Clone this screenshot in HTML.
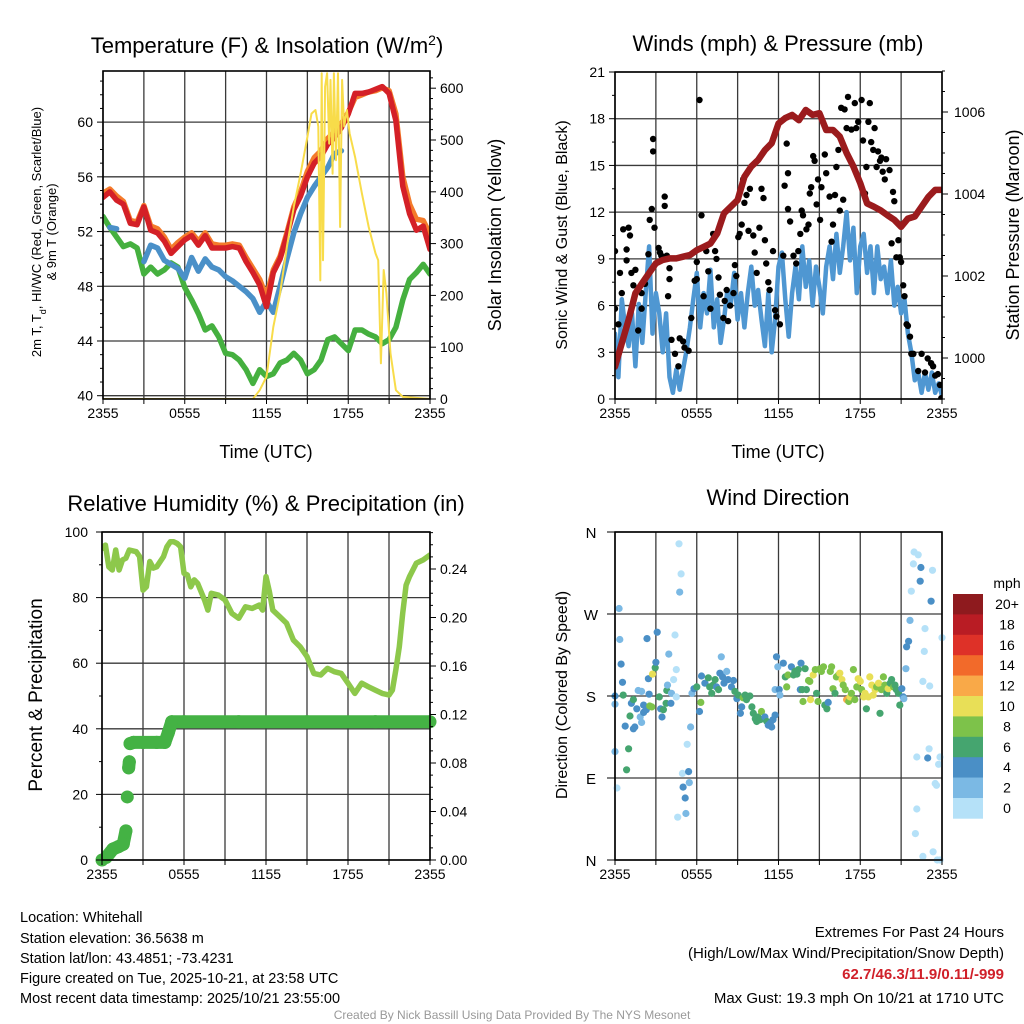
<!DOCTYPE html>
<html><head><meta charset="utf-8"><style>
html,body{margin:0;padding:0;background:#fff;}
svg{display:block;font-family:"Liberation Sans",Arial,sans-serif;}
</style></head><body>
<svg id="chart" width="1024" height="1024" viewBox="0 0 1024 1024" xmlns="http://www.w3.org/2000/svg">
<rect x="0" y="0" width="1024" height="1024" fill="#fff"/>
<text x="267" y="53" font-size="22" text-anchor="middle">Temperature (F) &amp; Insolation (W/m<tspan baseline-shift="super" font-size="14">2</tspan>)</text>
<text x="778" y="51" font-size="22" text-anchor="middle">Winds (mph) &amp; Pressure (mb)</text>
<text x="266" y="511" font-size="22" text-anchor="middle">Relative Humidity (%) &amp; Precipitation (in)</text>
<text x="778" y="505" font-size="22" text-anchor="middle">Wind Direction</text>
<text x="266" y="458" font-size="18" text-anchor="middle">Time (UTC)</text>
<text x="778" y="458" font-size="18" text-anchor="middle">Time (UTC)</text>
<g font-size="13" text-anchor="middle">
<text transform="translate(41,232) rotate(-90)">2m T, T<tspan baseline-shift="sub" font-size="9">d</tspan>, HI/WC (Red, Green, Scarlet/Blue)</text>
<text transform="translate(56,232) rotate(-90)">&amp; 9m T (Orange)</text>
</g>
<text transform="translate(501,235) rotate(-90)" font-size="18" text-anchor="middle">Solar Insolation (Yellow)</text>
<text transform="translate(567,235) rotate(-90)" font-size="16" text-anchor="middle">Sonic Wind &amp; Gust (Blue, Black)</text>
<text transform="translate(1019,235) rotate(-90)" font-size="18" text-anchor="middle">Station Pressure (Maroon)</text>
<text transform="translate(42,695) rotate(-90)" font-size="19" text-anchor="middle">Percent &amp; Precipitation</text>
<text transform="translate(567,695) rotate(-90)" font-size="16" text-anchor="middle">Direction (Colored By Speed)</text>
<g font-size="14.5">
<text x="20" y="922">Location: Whitehall</text>
<text x="20" y="943">Station elevation: 36.5638 m</text>
<text x="20" y="963">Station lat/lon: 43.4851; -73.4231</text>
<text x="20" y="983">Figure created on Tue, 2025-10-21, at 23:58 UTC</text>
<text x="20" y="1003">Most recent data timestamp: 2025/10/21 23:55:00</text>
</g>
<g font-size="15" text-anchor="end">
<text x="1004" y="937">Extremes For Past 24 Hours</text>
<text x="1004" y="958">(High/Low/Max Wind/Precipitation/Snow Depth)</text>
<text x="1004" y="979" fill="#d0202a" font-weight="bold">62.7/46.3/11.9/0.11/-999</text>
<text x="1004" y="1003">Max Gust: 19.3 mph On 10/21 at 1710 UTC</text>
</g>
<text x="512" y="1019" font-size="12" fill="#999" text-anchor="middle">Created By Nick Bassill Using Data Provided By The NYS Mesonet</text>
</svg>
<script>
// ---------- DATA ----------
const xTickLabels = ["2355","0555","1155","1755","2355"];
const tempStep = 0.5;
const tempRed = [54.5,54.9,54.3,54.0,52.6,52.5,53.8,52.1,51.9,51.3,50.4,50.9,51.4,51.7,51.0,51.7,50.8,50.8,50.8,50.9,50.8,49.8,49.0,48.1,46.5,49.0,50.0,51.7,53.6,54.6,56.0,57.0,57.5,58.4,58.9,59.6,60.6,62.1,62.1,62.2,62.4,62.6,62.1,60.1,55.3,53.3,52.1,52.4,50.7];
const temp9m = [54.8,55.1,54.6,54.2,52.8,52.7,53.9,52.4,52.2,51.6,50.7,51.2,51.6,51.9,51.3,51.9,51.1,51.0,51.0,51.1,51.0,50.1,49.3,48.5,47.2,49.2,50.2,51.9,53.8,54.9,56.4,57.4,57.9,58.8,59.3,59.9,60.7,61.8,62.0,62.2,62.3,62.5,62.3,60.6,56.0,54.0,52.9,52.8,51.8];
const heatWc = [null,52.3,52.2,null,null,null,49.8,51.0,50.8,49.9,49.6,49.3,48.6,50.1,49.1,50.0,49.4,49.2,48.7,48.4,48.0,47.6,47.1,46.1,46.9,46.1,48.0,50.0,51.9,53.3,54.5,55.3,56.0,56.7,57.7,57.9,null,null,null,null,null,null,null,null,null,null,null,null,null];
const dewPoint = [53.1,52.3,51.6,50.9,51.1,50.8,48.9,49.4,48.9,49.2,49.7,49.4,47.9,47.0,46.0,44.8,45.1,44.3,43.1,43.0,42.6,41.9,40.9,41.9,41.4,41.6,42.4,42.6,43.1,42.6,41.6,41.9,42.6,44.1,44.3,43.8,43.3,44.8,44.8,44.5,44.3,43.8,44.1,45.0,47.0,48.5,49.0,49.6,48.9];
const solarT = [0,11,11.5,12,12.5,13,13.5,14,14.5,15,15.3,15.6,15.8,15.95,16.05,16.15,16.3,16.45,16.6,16.7,16.85,16.95,17.1,17.25,17.4,17.55,17.7,17.9,18.1,18.5,19,19.5,20,20.2,20.4,20.6,20.8,21.1,21.5,22,24];
const solarV = [0,0,17,43,139,204,294,371,435,506,551,558,526,229,629,268,603,629,493,616,435,629,461,629,332,616,526,558,513,467,397,332,281,268,69,249,204,88,17,4,0];
const tempTicks = [40,44,48,52,56,60];
const solarTicks = [0,100,200,300,400,500,600];

const windStep = 0.25;
const sonicWind = [4.2,1.4,6.4,4.6,3.4,5.5,2.1,6.1,3.6,6.8,9.8,4.2,6.8,5.5,3.0,5.5,1.4,0.4,1.9,0.6,1.9,3.1,4.6,6.4,8.1,4.6,6.8,5.5,8.3,4.6,6.4,3.6,5.1,7.0,6.1,8.1,5.1,6.8,4.6,6.8,8.5,6.0,7.0,5.1,3.4,6.8,3.0,5.1,8.5,9.4,6.4,4.0,6.8,8.5,6.4,9.8,7.2,8.9,6.0,8.5,7.2,5.5,8.5,9.8,7.7,10.6,8.1,9.8,12.0,8.9,11.0,6.8,9.8,10.6,8.1,9.8,6.8,9.8,7.7,8.5,6.8,8.9,6.0,7.2,5.5,6.4,4.2,3.0,1.2,1.7,0.4,1.7,0.6,1.7,0.4,1.0,0.2];
const gustT = [0,0,0.25,0.37,0.5,0.6,0.85,1,1.1,0.85,1.2,1.35,1.5,1.7,1.95,1.95,2.2,2.45,2.55,2.7,2.8,2.8,2.9,3.2,3.3,3.4,3.65,3.65,3.8,4.0,4.0,3.9,4.15,4.4,4.65,4.75,5.0,5.1,5.4,5.6,5.85,6.0,6.0,6.2,6.35,6.5,6.7,6.85,7.0,7.2,7.35,7.45,7.6,7.7,7.95,8.05,8.2,8.3,8.45,8.7,8.8,8.9,9.05,9.15,9.3,9.4,9.5,9.65,9.8,9.9,10.15,10.25,10.4,10.6,10.75,10.9,11.0,11.1,11.25,11.35,11.6,11.75,11.85,12.1,12.35,12.45,12.6,12.7,12.7,12.85,13.1,13.3,13.45,13.6,13.7,13.8,14.05,14.2,14.3,14.4,14.55,14.65,14.8,14.9,15.05,15.15,15.4,15.5,15.75,15.9,16.0,16.15,16.25,16.4,16.5,16.6,16.75,16.85,17.0,17.1,17.35,17.6,17.7,17.85,18.1,18.2,18.35,18.45,18.6,18.7,18.8,18.95,19.05,19.2,19.3,19.45,19.55,19.65,19.8,19.9,20.15,20.3,20.4,20.5,20.65,20.8,20.9,21.0,21.15,21.25,21.4,21.5,21.65,21.75,21.9,22.25,22.5,22.75,22.95,23.2,23.35,23.5,23.7,23.85,23.95];
const gustV = [9.5,5.8,4.8,8.1,6.8,10.9,9.6,11,10.5,8.9,8.1,7.3,8.3,4.4,5.8,6.8,7.4,9.3,11.5,12.2,15.9,16.7,11,9.7,9.4,9.2,13,12.4,9.2,7.7,8.4,6.6,3.8,2.9,2.1,3.9,3.7,3.3,3.1,5.2,7.6,7.7,8.8,19.2,11.8,6.6,9.5,8.2,5.8,10.6,9.5,9.0,7.8,6.7,5.2,6.3,7.0,5.0,6.0,6.8,8.6,7.9,10.4,10.6,11.2,14.1,12.6,13.1,10.8,13.5,10.5,9.4,8.1,11.0,13.5,12.9,10.2,8.7,7.5,7.0,9.5,5.7,5.3,4.8,9.2,13.7,16.4,14.5,12.2,11.4,9.2,8.7,9.5,10.6,12.1,11.8,10.9,11.2,13.2,13.6,15.6,15.3,12.5,14.1,11.5,13.6,15.7,14.5,13.0,10.1,11.2,13.1,14.9,16.0,12.1,18.7,12.8,18.6,17.4,19.4,17.3,19.0,17.4,17.8,19.2,16.6,13.2,14.9,17.8,19.0,16.5,16.0,17.4,14.9,15.9,15.3,15.5,14.6,14.1,15.4,14.7,10.0,13.3,12.7,9.1,10.2,9.1,8.8,7.3,6.6,4.8,4.7,4.0,2.9,2.9,1.8,2.9,1.7,2.6,2.3,2.1,1.5,1.6,0.9,0.05];
const pressStep = 0.5;
const pressure = [999.79,1000.36,1000.93,1001.58,1001.83,1002.07,1002.31,1002.39,1002.43,1002.43,1002.47,1002.51,1002.63,1002.71,1002.79,1003.04,1003.53,1003.69,1003.85,1004.42,1004.67,1004.83,1005.07,1005.24,1005.72,1005.85,1005.93,1005.80,1006.05,1005.93,1005.97,1005.56,1005.56,1005.40,1005.00,1004.67,1004.26,1003.77,1003.69,1003.60,1003.48,1003.37,1003.20,1003.40,1003.45,1003.69,1003.93,1004.10,1004.10];
const windTicks = [0,3,6,9,12,15,18,21];
const pressTicks = [1000,1002,1004,1006];

const rhT = [0,0.25,0.5,0.75,1,1.25,1.5,1.75,2,2.5,2.75,3,3.25,3.5,3.75,4,4.5,4.75,5,5.25,5.5,5.75,6,6.25,6.5,6.75,7,7.5,7.75,8,8.5,9,9.5,10,10.5,11,11.5,11.75,12,12.25,12.5,13,13.5,14,14.5,15,15.5,16,16.5,17,17.5,18,18.5,19,19.5,20,20.5,21,21.25,21.5,21.75,22,22.25,22.5,23,23.5,24];
const rhV = [95,96,89.4,88.4,94.5,88.4,91.5,92,94.5,94,92.5,82.3,83.3,91,89,89.4,92.5,95.5,97,97,96.5,95.5,87.4,86.9,83.3,85.4,84.3,79.3,76.2,81.3,80.8,79.3,75.2,73.7,77.2,76.7,77.7,76.2,86.4,81.8,76.2,74.2,72.2,67.1,65.0,62,56.9,56.4,58.4,57.4,56.9,53.9,50.8,53.9,52.8,51.8,50.8,50.3,51.8,57.9,65,75.2,83.8,86.4,90.5,91.5,93];
const precipT = [0,0.3,0.8,1.2,1.55,1.75,1.85,1.95,2.0,2.05,2.3,3,4,4.6,4.85,5.1,6,10,15,20,24];
const precipV = [0,0.002,0.009,0.011,0.013,0.024,0.052,0.076,0.081,0.096,0.097,0.097,0.097,0.097,0.105,0.114,0.114,0.114,0.114,0.114,0.114];
const rhTicks = [0,20,40,60,80,100];
const precipTicks = [0,0.04,0.08,0.12,0.16,0.20,0.24];

const dirT = [0,0,0.3,0.35,0.45,0.55,0.6,0,0.15,0.75,0.85,1.0,1.1,1.2,1.35,1.45,1.35,1.6,1.7,1.85,1.95,1.95,2.1,2.1,2.3,2.35,2.45,2.5,2.55,2.7,2.75,2.95,3.0,3.1,3.25,3.35,3.45,3.55,3.75,3.8,3.85,3.95,4.1,4.15,4.3,4.4,4.5,4.5,4.7,4.85,4.75,4.95,5.0,5.15,5.2,5.3,5.4,5.45,5.55,4.6,5.65,5.8,6.0,6.2,6.3,6.35,6.6,6.85,6.95,7.1,7.2,7.35,7.45,7.6,7.7,7.8,7.9,8.0,8.2,8.3,8.55,8.7,8.8,8.95,9.05,9.2,9.3,9.4,9.55,9.65,9.9,10.05,10.15,10.3,10.4,10.5,10.65,10.75,10.9,11.0,11.15,11.25,11.4,11.5,11.6,11.75,11.75,11.85,11.95,12.05,12.1,12.35,12.5,12.6,12.7,12.95,13.1,13.2,13.35,13.45,13.6,13.65,13.75,13.8,13.95,14.05,14.2,14.3,14.35,14.55,14.7,14.8,14.9,15.05,15.15,15.3,15.4,15.55,15.65,15.8,15.9,16.0,16.15,16.25,16.4,16.5,16.65,16.75,16.9,17.0,17.15,17.25,17.35,17.5,17.6,17.75,17.85,18.0,18.1,18.25,18.35,18.45,18.6,18.7,18.85,18.95,19.1,19.2,19.35,19.45,19.55,19.7,19.8,19.95,20.05,20.2,20.3,20.45,20.55,20.65,20.8,20.9,21.05,21.15,21.2,21.35,21.4,21.55,21.65,21.75,21.9,21.95,22.25,22.45,22.4,22.6,22.7,22.75,23.1,23.2,23.3,22.15,22.95,23.05,22.15,22.05,22.6,23.35,23.5,23.6,23.65,23.85,23.75,24.0,23.85];
const dirV = [180,171,276,242,215,195,181,119,79,147,99,122,158,172,144,146,176,166,186,157,185,151,170,162,165,243,199,182,169,168,204,211,217,250,179,166,157,165,172,186,192,226,172,183,198,247,209,179,347,314,294,95,80,68,51,127,97,85,146,47,183,188,190,163,173,202,194,200,190,183,192,198,190,187,205,223,201,194,207,198,190,197,185,177,181,161,168,178,181,176,180,168,161,155,152,157,154,163,155,157,152,148,150,146,154,159,187,223,212,187,181,216,201,190,203,212,203,207,204,209,187,216,187,174,210,187,197,196,176,203,209,183,174,210,207,212,170,166,173,207,212,188,183,201,203,205,198,192,187,176,174,179,183,209,176,190,199,196,187,179,183,166,179,201,192,181,187,190,194,161,187,201,192,183,188,194,198,190,192,187,183,170,188,179,177,210,234,240,263,295,325,338,335,321,306,196,229,254,191,284,318,113,112,122,56,29,4,9,84,82,0,113,105,244,0];
const dirS = [5,3,3,3,5,5,7,3,1,5,7,7,7,5,5,5,7,5,3,3,3,3,5,5,5,5,5,5,9,9,11,7,5,5,7,5,5,7,7,7,3,3,5,3,1,1,1,1,1,1,3,1,5,5,3,1,5,3,3,1,3,5,7,5,9,5,5,7,7,7,7,7,5,7,5,3,5,5,3,5,5,5,7,5,7,5,5,9,7,7,7,7,7,7,7,7,7,9,7,5,7,5,5,5,5,5,3,5,3,5,3,5,7,9,9,5,7,7,7,7,5,5,7,9,7,7,9,9,11,11,9,7,9,9,9,9,7,7,5,9,9,9,7,9,9,11,11,9,9,13,9,11,9,9,9,9,11,11,9,11,11,7,11,11,11,11,11,9,11,7,9,9,9,7,11,7,7,9,7,7,7,7,5,5,3,3,5,5,3,1,1,1,1,5,5,1,1,1,1,5,1,1,5,1,1,1,1,1,1,1,1,1,1,1,1,1];
const dirLabels = ["N","E","S","W","N"];
const dirTicks = [0,90,180,270,360];
const speedLabels = ["0","2","4","6","8","10","12","14","16","18","20+"];
const speedColors = ["#b5e1f8","#7bb9e4","#4a8fc6","#45a56f","#7dc24a","#e8df57","#f9a948","#f26a2a","#de3128","#b91c24","#8e1a1e"];

// ---------- HELPERS ----------
const NS = 'http://www.w3.org/2000/svg';
const svg = document.getElementById('chart');
function mk(tag, parent){ const e = document.createElementNS(NS, tag); parent.appendChild(e); return e; }
function attrs(e, a){ for (const k in a) e.setAttribute(k, a[k]); return e; }
function linear(d0, d1, r0, r1){ return v => r0 + (v - d0) * (r1 - r0) / (d1 - d0); }
function pathFrom(xs, ys, xf, yf){
  let d = '', pen = false;
  for (let i = 0; i < xs.length; i++){
    if (ys[i] === null || ys[i] === undefined){ pen = false; continue; }
    d += (pen ? 'L' : 'M') + xf(xs[i]).toFixed(1) + ',' + yf(ys[i]).toFixed(1);
    pen = true;
  }
  return d;
}
function stepTimes(n, step){ const t = []; for (let i = 0; i < n; i++) t.push(i * step); return t; }
function speedColor(s){ let k = Math.floor(s / 2); if (k > 10) k = 10; if (k < 0) k = 0; return speedColors[k]; }

function panel(name, L, R, T, B){
  const g = mk('g', svg);
  
  
  const cp = mk('clipPath', g);
  attrs(cp, {id: name + '-clip'});
  const cr = mk('rect', cp);
  attrs(cr, {x: L, y: T, width: R - L, height: B - T});
  return g;
}
function grid(g, name, L, R, T, B, xs, ys){
  const gg = mk('g', g);
  
  
  xs.forEach(x => {
    const l = mk('line', gg);
    
    
    attrs(l, {x1: x, x2: x, y1: T, y2: B, stroke: '#3a3a3a', 'stroke-width': 1.3});
  });
  ys.forEach(y => {
    const l = mk('line', gg);
    
    
    attrs(l, {x1: L, x2: R, y1: y, y2: y, stroke: '#3a3a3a', 'stroke-width': 1.3});
  });
}
function frame(g, L, R, T, B){
  const r = mk('rect', g);
  
  
  attrs(r, {x: L, y: T, width: R - L, height: B - T, fill: 'none', stroke: '#000', 'stroke-width': 1.6});
}
function tick(g, x1, y1, x2, y2){
  const l = mk('line', g);
  
  
  attrs(l, {x1: x1, y1: y1, x2: x2, y2: y2, stroke: '#000', 'stroke-width': 1});
}
function label(g, name, x, y, txt, anchor, size){
  const t = mk('text', g);
  
  
  attrs(t, {x: x, y: y, 'text-anchor': anchor, 'font-size': size || 14});
  t.textContent = txt;
  return t;
}
function xAxis(g, L, R, B, xf){
  for (let i = 0; i <= 8; i++) tick(g, xf(i * 3), B, xf(i * 3), B + 5);
  xTickLabels.forEach((s, i) => label(g, 'x-tick-label', xf(i * 6), B + 19, s, 'middle', 14));
}
function seriesPath(g, name, d, color, width, clip){
  const p = mk('path', g);
  
  
  attrs(p, {d: d, fill: 'none', stroke: color, 'stroke-width': width, 'stroke-linejoin': 'round', 'stroke-linecap': 'round', 'clip-path': 'url(#' + clip + ')'});
  return p;
}

// ---------- PANEL 1: Temperature ----------
(function(){
  const L = 103, R = 430, T = 71, B = 399;
  const g = panel('temperature-panel', L, R, T, B);
  const x = linear(0, 24, L, R);
  const y = linear(40, 64, 395.7, 67.4);
  const ys = linear(0, 600, 399, 88.2);
  const xg = []; for (let i = 0; i <= 8; i++) xg.push(x(i * 3));
  grid(g, 'temperature-grid', L, R, T, B, xg, tempTicks.map(y));
  const t = stepTimes(tempRed.length, tempStep);
  seriesPath(g, 'dewpoint-line', pathFrom(t, dewPoint, x, y), '#45b03f', 5.5, 'temperature-panel-clip');
  seriesPath(g, 'temp-9m-line', pathFrom(t, temp9m, x, y), '#f47b2b', 5.5, 'temperature-panel-clip');
  seriesPath(g, 'heat-index-windchill-line', pathFrom(t, heatWc, x, y), '#4a90c8', 5.5, 'temperature-panel-clip');
  seriesPath(g, 'temp-2m-line', pathFrom(t, tempRed, x, y), '#d42027', 5.5, 'temperature-panel-clip');
  seriesPath(g, 'solar-insolation-line', pathFrom(solarT, solarV, x, ys), '#f8dc4a', 2, 'temperature-panel-clip');
  frame(g, L, R, T, B);
  for (let v = 40; v <= 63; v++) tick(g, L - (v % 4 === 0 ? 6 : 3), y(v), L, y(v));
  tempTicks.forEach(v => label(g, 'temp-y-tick-label', L - 10, y(v) + 5, String(v), 'end', 14));
  for (let v = 0; v <= 620; v += 20) tick(g, R, ys(v), R + (v % 100 === 0 ? 6 : 3), ys(v));
  solarTicks.forEach(v => label(g, 'solar-y-tick-label', R + 10, ys(v) + 5, String(v), 'start', 14));
  xAxis(g, L, R, B, x);
})();

// ---------- PANEL 2: Winds ----------
(function(){
  const L = 615, R = 942, T = 72, B = 399;
  const g = panel('winds-panel', L, R, T, B);
  const x = linear(0, 24, L, R);
  const y = linear(0, 21, 399, 72);
  const yp = linear(1000, 1006, 358, 112);
  const xg = []; for (let i = 0; i <= 8; i++) xg.push(x(i * 3));
  grid(g, 'winds-grid', L, R, T, B, xg, windTicks.map(y));
  const tw = stepTimes(sonicWind.length, windStep);
  seriesPath(g, 'sonic-wind-line', pathFrom(tw, sonicWind, x, y), '#4f97d2', 4.5, 'winds-panel-clip');
  const gg = mk('g', g);
  
  
  for (let i = 0; i < gustT.length; i++){
    const c = mk('circle', gg);
    
    
    attrs(c, {cx: x(gustT[i]).toFixed(1), cy: y(gustV[i]).toFixed(1), r: 3.2, fill: '#000', 'clip-path': 'url(#winds-panel-clip)'});
  }
  const tp = stepTimes(pressure.length, pressStep);
  seriesPath(g, 'pressure-line', pathFrom(tp, pressure, x, yp), '#9b1b1d', 6.5, 'winds-panel-clip');
  frame(g, L, R, T, B);
  for (let v = 0; v <= 21; v += 1.5) tick(g, L - (v % 3 === 0 ? 6 : 3), y(v), L, y(v));
  windTicks.forEach(v => label(g, 'wind-y-tick-label', L - 10, y(v) + 5, String(v), 'end', 14));
  for (let v = 999; v <= 1007; v += 0.5) tick(g, R, yp(v), R + (v % 2 === 0 ? 6 : 3), yp(v));
  pressTicks.forEach(v => label(g, 'pressure-y-tick-label', R + 12, yp(v) + 5, String(v), 'start', 14));
  xAxis(g, L, R, B, x);
})();

// ---------- PANEL 3: RH & precip ----------
(function(){
  const L = 102, R = 430, T = 532, B = 860;
  const g = panel('humidity-panel', L, R, T, B);
  const x = linear(0, 24, L, R);
  const y = linear(0, 100, 860, 532);
  const yp = linear(0, 0.24, 860, 569);
  const xg = []; for (let i = 0; i <= 8; i++) xg.push(x(i * 3));
  grid(g, 'humidity-grid', L, R, T, B, xg, rhTicks.map(y));
  seriesPath(g, 'relative-humidity-line', pathFrom(rhT, rhV, x, y), '#8dc84b', 5.5, 'humidity-panel-clip');
  const pg = mk('g', g);
  
  
  for (let i = 1; i < precipT.length; i++){
    if (Math.abs(precipV[i] - precipV[i-1]) < 0.012){
      const l = mk('line', pg);
      
      
      attrs(l, {x1: x(precipT[i-1]), y1: yp(precipV[i-1]), x2: x(precipT[i]), y2: yp(precipV[i]), stroke: '#44b244', 'stroke-width': 13, 'stroke-linecap': 'round', 'clip-path': 'url(#humidity-panel-clip)'});
    }
  }
  for (let i = 0; i < precipT.length; i++){
    const c = mk('circle', pg);
    
    
    attrs(c, {cx: x(precipT[i]), cy: yp(precipV[i]), r: 6.5, fill: '#44b244'});
  }
  frame(g, L, R, T, B);
  for (let v = 0; v <= 100; v += 10) tick(g, L - (v % 20 === 0 ? 6 : 3), y(v), L, y(v));
  rhTicks.forEach(v => label(g, 'rh-y-tick-label', L - 14, y(v) + 5, String(v), 'end', 14));
  for (let k = 0; k <= 27; k++){ const v = k * 0.01; tick(g, R, yp(v), R + (k % 4 === 0 ? 6 : 3), yp(v)); }
  precipTicks.forEach(v => label(g, 'precip-y-tick-label', R + 10, yp(v) + 5, v.toFixed(2), 'start', 14));
  xAxis(g, L, R, B, x);
})();

// ---------- PANEL 4: Wind direction ----------
(function(){
  const L = 615, R = 942, T = 532, B = 860;
  const g = panel('direction-panel', L, R, T, B);
  const x = linear(0, 24, L, R);
  const y = linear(0, 360, 860, 532);
  const xg = []; for (let i = 0; i <= 8; i++) xg.push(x(i * 3));
  grid(g, 'direction-grid', L, R, T, B, xg, dirTicks.map(y));
  const dg = mk('g', g);
  
  
  for (let i = 0; i < dirT.length; i++){
    const c = mk('circle', dg);
    
    
    attrs(c, {cx: x(dirT[i]).toFixed(1), cy: y(dirV[i]).toFixed(1), r: 3.6, fill: speedColor(dirS[i])});
  }
  frame(g, L, R, T, B);
  dirTicks.forEach((v, i) => { tick(g, L - 8, y(v), L, y(v)); label(g, 'direction-tick-label', L - 24, y(v) + 6, dirLabels[i], 'middle', 15); });
  xAxis(g, L, R, B, x);
  // colorbar
  const cb = mk('g', svg);
  
  
  const top = 594, bh = 20.4;
  label(cb, 'colorbar-title', 1007, 588, 'mph', 'middle', 14);
  for (let k = 0; k < speedLabels.length; k++){
    const idx = speedLabels.length - 1 - k;
    const r = mk('rect', cb);
    
    
    attrs(r, {x: 953, y: top + k * bh, width: 30, height: bh + 0.3, fill: speedColors[idx]});
    label(cb, 'colorbar-label', 1007, top + k * bh + 15, speedLabels[idx], 'middle', 14);
  }
})();
</script>
</body></html>
